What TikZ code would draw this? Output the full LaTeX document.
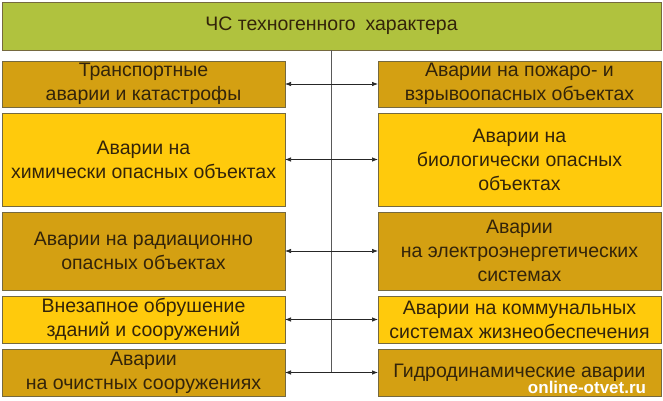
\documentclass[tikz,border=0pt]{standalone}
\usepackage{fontspec}
\setmainfont{Liberation Sans}
\usetikzlibrary{arrows.meta,chains,positioning}
\definecolor{topgreen}{HTML}{B0C23E}
\definecolor{darkgold}{HTML}{D4A012}
\definecolor{lightgold}{HTML}{FFCA0C}
\definecolor{edge}{HTML}{75693F}
\definecolor{ink}{HTML}{33240A}

\begin{document}
\begin{tikzpicture}[
x=1pt, y=-1pt,
node distance=6pt,
 start chain = L going below,
    box/.style = {rectangle, draw=edge, line width=0.8pt,% boxes of both columns
                  minimum width=283pt, text=ink, align=center,
                  font=\fontsize{19.5}{24}\selectfont,
                  inner sep=0pt, outer sep=0pt},
   link/.style = {{Latex[length=6pt,width=4.5pt]}-{Latex[length=6pt,width=4.5pt]},
                  line width=0.7pt, draw=black!85},
  trunk/.style = {line width=1pt, draw=black!65},
                        ]
\useasboundingbox (0,0) rectangle (663,400);
\node[box, fill=topgreen, minimum width=659pt, minimum height=48pt] (T) at (331.5,26)
    {ЧС техногенного\enspace характера};
\node[box, fill=darkgold, minimum height=46pt, on chain,
      below right=11pt and 0pt of T.south west] {Транспортные\\аварии и катастрофы};
\node[box, fill=darkgold, minimum height=46pt, right=93pt of L-1] (R-1)
    {Аварии на пожаро- и\\взрывоопасных объектах};
\foreach \h/\c/\l/\r [count=\i from 2] in {% <-- height/colour/left text/right text
    93/lightgold/{Аварии на\\химически опасных объектах}/{Аварии на\\биологически опасных\\объектах},
    78/darkgold/{Аварии на радиационно\\опасных объектах}/{Аварии\\на электроэнергетических\\системах},
    47/lightgold/{Внезапное обрушение\\зданий и сооружений}/{Аварии на коммунальных\\системах жизнеобеспечения},
    47/darkgold/{Аварии\\на очистных сооружениях}/{Гидродинамические аварии}}
{
\node[box, fill=\c, minimum height=\h pt, on chain] {\l};
\node[box, fill=\c, minimum height=\h pt, right=93pt of L-\i] (R-\i) {\r};
}
\coordinate (E) at (T.south |- L-5.east);
\draw[trunk] (T.south) -- (E);
\foreach \i in {1,...,5}
    \draw[link] (L-\i) -- (R-\i);
\node[font=\bfseries\fontsize{17}{17}\selectfont, text=white] (W) at (587,387) {online-otvet.ru};
\end{tikzpicture}
\end{document}
